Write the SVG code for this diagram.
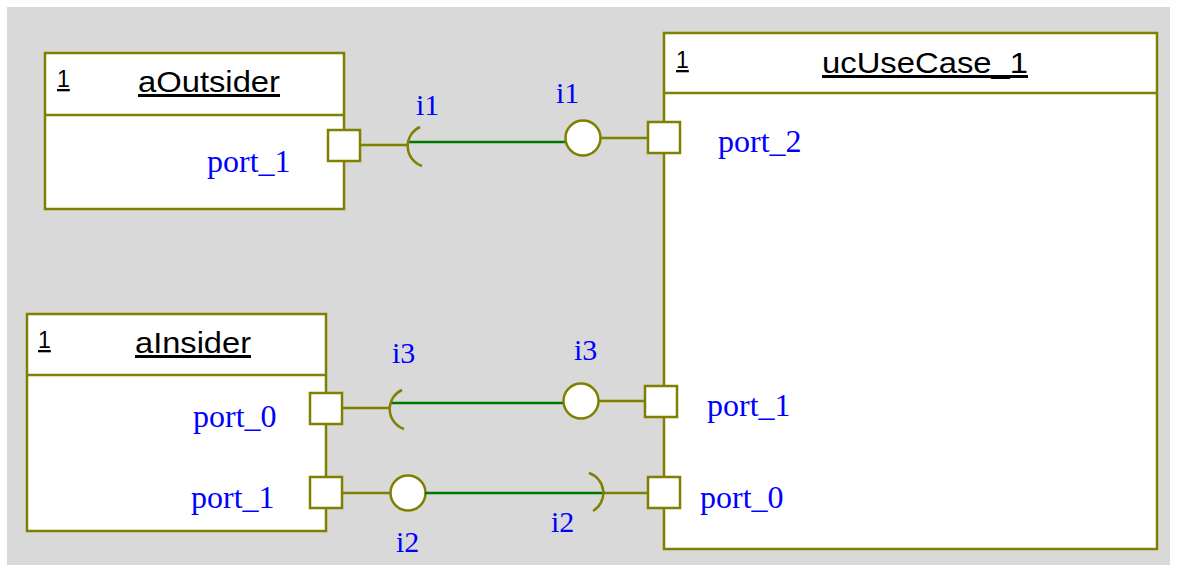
<svg xmlns="http://www.w3.org/2000/svg" width="1179" height="572" viewBox="0 0 1179 572">
<style>
.box{fill:#fff;stroke:#808000;stroke-width:2.5}
.port{fill:#fff;stroke:#808000;stroke-width:2.5}
.ol{fill:none;stroke:#808000;stroke-width:2.5}
.gr{fill:none;stroke:#007800;stroke-width:2.5}
.ball{fill:#fff;stroke:#808000;stroke-width:2.5}
.title{font-family:"Liberation Sans",Arial,sans-serif;font-size:30px;fill:#000;text-decoration:underline}
.mult{font-family:"Liberation Sans",Arial,sans-serif;font-size:23px;fill:#000;text-decoration:underline}
.pl{font-family:"Liberation Serif","Times New Roman",serif;font-size:32px;fill:#0000ff}
.il{font-family:"Liberation Serif","Times New Roman",serif;font-size:30px;fill:#0000ff}
</style>
<rect x="7" y="7" width="1163" height="558" fill="#d9d9d9"/>
<g id="aOutsider">
<rect class="box" x="45" y="53" width="299" height="156"/>
<line class="ol" x1="45" y1="115" x2="344" y2="115"/>
<text class="mult" x="57" y="87">1</text>
<text class="title" x="138" y="92" textLength="142" lengthAdjust="spacingAndGlyphs">aOutsider</text>
<text class="pl" x="207" y="172">port_1</text>
<rect class="port" x="328" y="130" width="32" height="31"/>
</g>
<g id="aInsider">
<rect class="box" x="27" y="314" width="299" height="217"/>
<line class="ol" x1="27" y1="375" x2="326" y2="375"/>
<text class="mult" x="38" y="348">1</text>
<text class="title" x="135" y="353" textLength="116" lengthAdjust="spacingAndGlyphs">aInsider</text>
<text class="pl" x="193" y="427">port_0</text>
<text class="pl" x="191" y="508">port_1</text>
<rect class="port" x="310" y="393" width="32" height="31"/>
<rect class="port" x="310" y="477" width="32" height="31"/>
</g>
<g id="ucUseCase_1">
<rect class="box" x="664" y="33" width="493" height="516"/>
<line class="ol" x1="664" y1="93" x2="1157" y2="93"/>
<text class="mult" x="676" y="68">1</text>
<text class="title" x="822" y="73" textLength="206" lengthAdjust="spacingAndGlyphs">ucUseCase_1</text>
<text class="pl" x="718" y="152">port_2</text>
<text class="pl" x="707" y="416">port_1</text>
<text class="pl" x="700" y="508">port_0</text>
<rect class="port" x="648" y="122" width="32" height="31"/>
<rect class="port" x="645" y="386" width="32" height="31"/>
<rect class="port" x="648" y="477" width="32" height="31"/>
</g>
<g id="connectors">
<g id="i1">
<path class="ol" d="M360 145 H408"/>
<path class="gr" d="M408 142 H566"/>
<path class="ol" d="M420 127 A21 21 0 0 0 422 166"/>
<circle class="ball" cx="583" cy="138" r="17.5"/>
<path class="ol" d="M600 138 H648"/>
<text class="il" x="416" y="115">i1</text>
<text class="il" x="556" y="103">i1</text>
</g>
<g id="i3">
<path class="ol" d="M342 408 H390"/>
<path class="gr" d="M390 403 H564"/>
<path class="ol" d="M402 390 A21 21 0 0 0 404 429"/>
<circle class="ball" cx="581" cy="401" r="17.5"/>
<path class="ol" d="M598 401 H645"/>
<text class="il" x="392" y="363">i3</text>
<text class="il" x="574" y="360">i3</text>
</g>
<g id="i2">
<path class="ol" d="M342 493 H391"/>
<circle class="ball" cx="408" cy="493" r="17.5"/>
<path class="gr" d="M425 493 H605"/>
<path class="ol" d="M589 473 A21 21 0 0 1 593 511"/>
<path class="ol" d="M605 493 H648"/>
<text class="il" x="396" y="552">i2</text>
<text class="il" x="551" y="532">i2</text>
</g>
</g>
</svg>
